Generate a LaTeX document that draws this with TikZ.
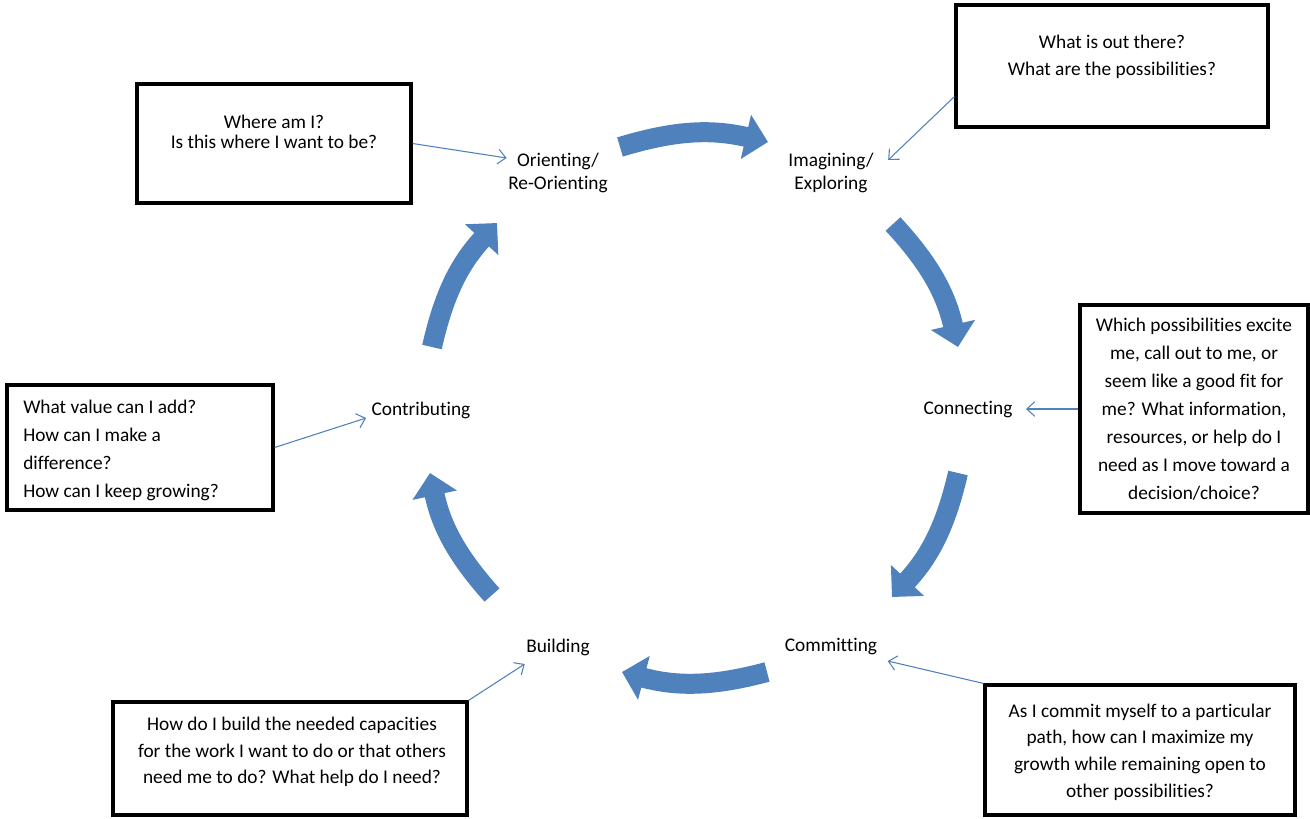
\documentclass[tikz,border=0pt]{standalone}
\usepackage{fontspec}
\setmainfont{Carlito}[Ligatures=NoCommon]
\usepackage{tikz}
\usetikzlibrary{arrows.meta}
\definecolor{cycleblue}{RGB}{79,129,189}
\tikzset{
  stage/.style={align=center, inner sep=1pt, font=\fontsize{14.5}{17.25}\selectfont},
  qbox/.style={draw=black, line width=2.4pt, inner sep=0pt},
  qtext/.style={align=center, inner sep=0pt, font=\fontsize{14.5}{20.25}\selectfont},
  cyclearrow/.style={draw=cycleblue, line width=15pt, -{Triangle[length=17pt,width=33pt]}},
  pointer/.style={draw=cycleblue, line width=0.8pt, -{Straight Barb[length=6pt,width=11pt]}}
}

\begin{document}
\begin{tikzpicture}[x=0.75pt,y=0.75pt]
  \useasboundingbox (0,0) rectangle (1310,-818);

  \node[stage] (lorient)  at (558,-173) {Orienting/\\Re-Orienting};
  \node[stage] (limag)    at (831,-173) {Imagining/\\Exploring};
  \node[stage] (lconn)    at (968,-410) {Connecting};
  \node[stage] (lcommit)  at (831,-647) {Committing};
  \node[stage] (lbuild)   at (558,-647) {Building};
  \node[stage] (lcontrib) at (421,-410) {Contributing};

  \coordinate (a1s) at (620,-147);  \coordinate (a1e) at (768,-142);
  \coordinate (a2s) at (893,-224);  \coordinate (a2e) at (958,-347);
  \coordinate (a3s) at (958,-473);  \coordinate (a3e) at (892,-597);
  \coordinate (a4s) at (767,-672);  \coordinate (a4e) at (622,-672);
  \coordinate (a5s) at (492,-595);  \coordinate (a5e) at (430,-473);
  \coordinate (a6s) at (432,-347);  \coordinate (a6e) at (497,-223);

  \draw[cyclearrow] (a1s) to[bend left=15] (a1e);
  \draw[cyclearrow] (a2s) to[bend left=15] (a2e);
  \draw[cyclearrow] (a3s) to[bend left=15] (a3e);
  \draw[cyclearrow] (a4s) to[bend left=15] (a4e);
  \draw[cyclearrow] (a5s) to[bend left=15] (a5e);
  \draw[cyclearrow] (a6s) to[bend left=15] (a6e);

  \node[qbox, minimum width=205.5pt, minimum height=89.25pt] (q1) at (274,-143.5) {};
  \node[qbox, minimum width=234pt,   minimum height=91.5pt]  (q2) at (1112,-66) {};
  \node[qbox, minimum width=171pt,   minimum height=156pt]   (q3) at (1194,-409) {};
  \node[qbox, minimum width=199.5pt, minimum height=93.75pt] (q4) at (140,-447.5) {};
  \node[qbox, minimum width=265.5pt, minimum height=84.75pt] (q5) at (290,-758.5) {};
  \node[qbox, minimum width=232.5pt, minimum height=97.5pt]  (q6) at (1140,-750) {};

  \node[qtext, font=\fontsize{14.5}{15.5}\selectfont] (t1) at (274,-132)
    {Where am I?\\Is this where I want to be?};
  \node[qtext] (t2) at (1112,-56.5)
    {What is out there?\\What are the possibilities?};
  \node[qtext, font=\fontsize{14.5}{21}\selectfont] (t3) at (1194,-409)
    {Which possibilities excite\\me, call out to me, or\\seem like a good fit for\\me? What information,\\resources, or help do I\\need as I move toward a\\decision/choice?};
  \node[qtext, align=left, anchor=west, font=\fontsize{14.5}{21}\selectfont] (t4) at (23,-450)
    {What value can I add?\\How can I make a\\difference?\\How can I keep growing?};
  \node[qtext, font=\fontsize{14.5}{20}\selectfont] (t5) at (292,-752)
    {How do I build the needed capacities\\for the work I want to do or that others\\need me to do? What help do I need?};
  \node[qtext, font=\fontsize{14.5}{20}\selectfont] (t6) at (1140,-752)
    {As I commit myself to a particular\\path, how can I maximize my\\growth while remaining open to\\other possibilities?};

  \draw[pointer] (q1.east) -- ([shift={(0,15)}]lorient.west);
  \draw[pointer] (q2.191) -- ([shift={(13,13)}]limag.east);
  \draw[pointer] (q3.west) -- ([shift={(12,1)}]lconn.east);
  \draw[pointer] (q6.north west) -- ([shift={(9,-14)}]lcommit.east);
  \draw[pointer] (q5.north east) -- ([shift={(0,-17)}]lbuild.west);
  \draw[pointer] (q4.east) -- ([shift={(-4,-8)}]lcontrib.west);
\end{tikzpicture}
\end{document}
